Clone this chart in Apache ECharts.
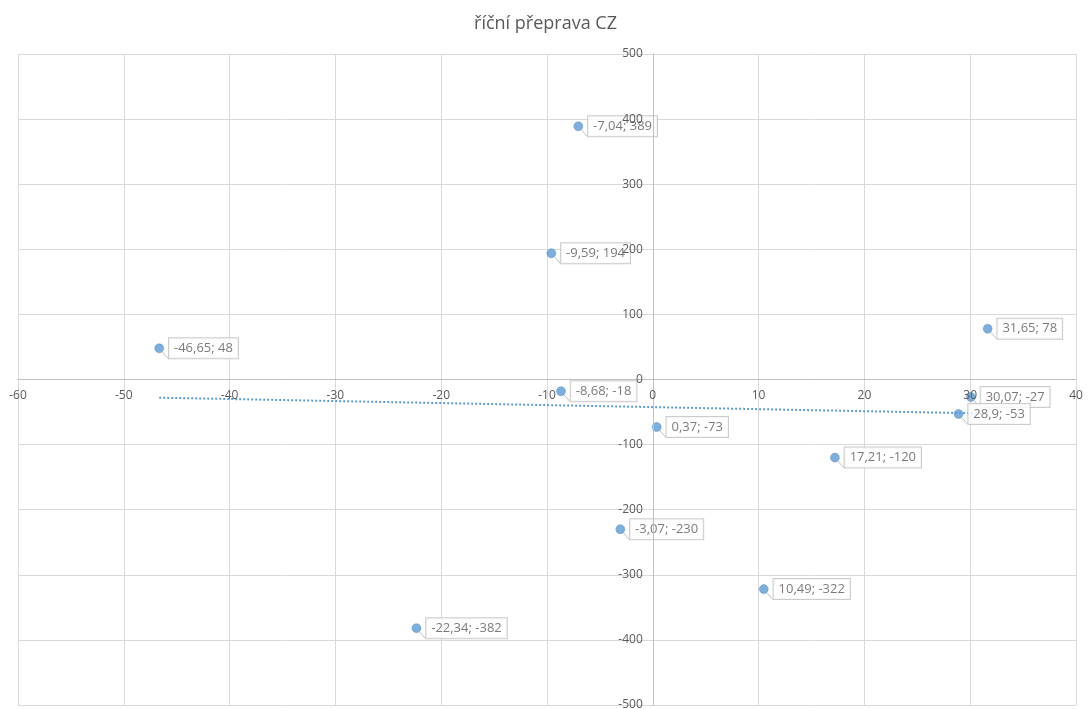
<!DOCTYPE html>
<html>
<head>
<meta charset="utf-8">
<script src="https://cdn.jsdelivr.net/npm/echarts@6/dist/echarts.min.js"></script>
<style>
  html, body { margin: 0; padding: 0; background: #fff; }
  #chart { width: 1091px; height: 709px; }
</style>
</head>
<body>
<div id="chart"></div>
<script>
// Body data: change in x vs. change in y for river transport
const xValues = [-46.65, -7.04, -9.59, -8.68, 0.37, 31.65, 30.07, 28.9, 17.21, -3.07, 10.49, -22.34];
const yValues = [48, 389, 194, -18, -73, 78, -27, -53, -120, -230, -322, -382];
const chartTitle = 'říční přeprava CZ';
const xRange = [-60, 40];
const yRange = [-500, 500];

const points = xValues.map((x, i) => [x, yValues[i]]);

// Linear least-squares trend line over the x range of the data
function linearTrend(xs, ys) {
  const n = xs.length;
  const mx = xs.reduce((a, b) => a + b, 0) / n;
  const my = ys.reduce((a, b) => a + b, 0) / n;
  let sxy = 0, sxx = 0;
  for (let i = 0; i < n; i++) {
    sxy += (xs[i] - mx) * (ys[i] - my);
    sxx += (xs[i] - mx) * (xs[i] - mx);
  }
  const slope = sxy / sxx;
  const icpt = my - slope * mx;
  const x0 = Math.min(...xs), x1 = Math.max(...xs);
  return [[x0, icpt + slope * x0], [x1, icpt + slope * x1]];
}
const trend = linearTrend(xValues, yValues);

const fmt = v => String(v).replace('.', ',');
const textColor = '#595959';
const fontFamily = '"Open Sans", "Noto Sans", sans-serif';

// Plot area; axes cross at the origin, so shift each axis (line + labels) inward
const W = 1091, H = 709;
const grid = { left: 18, right: 15, top: 54, bottom: 4 };
const gw = W - grid.left - grid.right;
const gh = H - grid.top - grid.bottom;
const xAxisOffset = -gh * (0 - yRange[0]) / (yRange[1] - yRange[0]);
const yAxisOffset = -gw * (0 - xRange[0]) / (xRange[1] - xRange[0]);

const gridLine = { show: true, lineStyle: { color: '#d9d9d9', width: 1 } };
const axisLineStyle = { onZero: false, lineStyle: { color: '#bfbfbf', width: 1 } };
const tickLabel = { color: textColor, fontSize: 12, fontFamily, margin: 10 };

const chart = echarts.init(document.getElementById('chart'), null, { renderer: 'canvas' });
chart.setOption({
  backgroundColor: '#fff',
  animation: false,
  title: {
    text: chartTitle,
    left: 'center',
    top: 10,
    textStyle: { color: textColor, fontSize: 18, fontWeight: 'normal', fontFamily }
  },
  grid: Object.assign({ containLabel: false, outerBoundsMode: 'none' }, grid),
  // index 0: gridlines beneath the marks; index 1: crossing axis lines and tick labels on top
  xAxis: [
    {
      type: 'value', min: xRange[0], max: xRange[1], interval: 10,
      axisLine: { show: false }, axisTick: { show: false }, axisLabel: { show: false },
      splitLine: gridLine, z: 0
    },
    {
      type: 'value', min: xRange[0], max: xRange[1], interval: 10,
      position: 'bottom', offset: xAxisOffset,
      axisLine: axisLineStyle, axisTick: { show: false }, axisLabel: tickLabel,
      splitLine: { show: false }, z: 5
    }
  ],
  yAxis: [
    {
      type: 'value', min: yRange[0], max: yRange[1], interval: 100,
      axisLine: { show: false }, axisTick: { show: false }, axisLabel: { show: false },
      splitLine: gridLine, z: 0
    },
    {
      type: 'value', min: yRange[0], max: yRange[1], interval: 100,
      position: 'left', offset: yAxisOffset,
      axisLine: axisLineStyle, axisTick: { show: false }, axisLabel: tickLabel,
      splitLine: { show: false }, z: 5
    }
  ],
  series: [
    {
      type: 'line',
      data: trend,
      xAxisIndex: 0, yAxisIndex: 0,
      symbol: 'none',
      silent: true,
      z: 1,
      lineStyle: { color: '#5b9bd5', width: 2, type: [2, 2] }
    },
    {
      type: 'scatter',
      data: points,
      xAxisIndex: 0, yAxisIndex: 0,
      symbol: 'circle',
      symbolSize: 9,
      z: 3,
      itemStyle: { color: '#5b9bd5', borderColor: '#4a86bf', borderWidth: 0.5 },
      label: {
        show: true,
        position: 'right',
        distance: 5,
        formatter: p => fmt(p.value[0]) + '; ' + fmt(p.value[1]),
        color: textColor,
        fontSize: 13,
        fontFamily,
        backgroundColor: '#fff',
        borderColor: '#bfbfbf',
        borderWidth: 1,
        padding: [4, 5, 3, 5]
      },
      labelLine: { show: true, lineStyle: { color: '#bfbfbf', width: 1 } }
    }
  ]
});
</script>
</body>
</html>
